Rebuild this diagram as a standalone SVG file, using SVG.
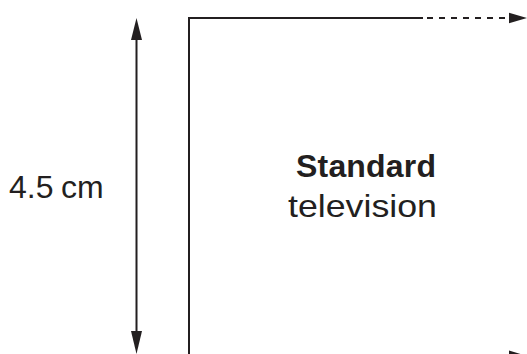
<svg xmlns="http://www.w3.org/2000/svg" width="527" height="354" viewBox="0 0 527 354">
<style>
.ln{stroke:#231f20;stroke-width:2;fill:none}
.ah{fill:#231f20}
text{font-family:"Liberation Sans",Arial,sans-serif;font-size:32px;fill:#231f20}
</style>
<rect width="527" height="354" fill="#fff"/>
<g id="connectors">
<line class="ln" x1="136.5" y1="36" x2="136.5" y2="336"/>
<polygon class="ah" points="136.5,18 131,40 142,40"/>
<polygon class="ah" points="136.5,354 131,331 142,331"/>
<line class="ln" x1="189" y1="18" x2="423" y2="18"/>
<line class="ln" x1="427" y1="18" x2="510" y2="18" stroke-dasharray="6,6"/>
<polygon class="ah" points="527,18 509,12.7 509,23.3"/>
<polygon class="ah" points="527,356 509,350.5 509,361"/>
</g>
<g id="tv">
<line class="ln" x1="189" y1="17" x2="189" y2="354"/>
<text x="366" y="177" text-anchor="middle" font-weight="bold" textLength="140">Standard</text>
<text x="362.5" y="217" text-anchor="middle" font-size="33" textLength="149" lengthAdjust="spacingAndGlyphs">television</text>
</g>
<g id="dim">
<text y="198"><tspan x="9">4.5</tspan><tspan x="61">cm</tspan></text>
</g>
</svg>
